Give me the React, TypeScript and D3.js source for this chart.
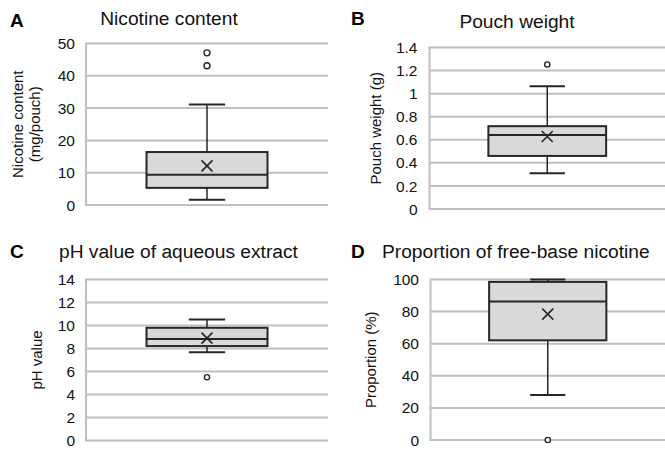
import React, { useEffect, useRef } from 'react';
import * as d3 from 'd3';

// box statistics per panel: [min whisker, q1, median, q3, max whisker], mean, outliers
const panelKeys = ['A', 'B', 'C', 'D'];
const panelTitles = ['Nicotine content', 'Pouch weight', 'pH value of aqueous extract', 'Proportion of free-base nicotine'];
const axisLabels = [['Nicotine content', '(mg/pouch)'], ['Pouch weight (g)'], ['pH value'], ['Proportion (%)']];
const yMax = [50, 1.4, 14, 100];
const yStep = [10, 0.2, 2, 20];
const whiskerLow = [1.6, 0.31, 7.67, 28];
const quartile1 = [5.3, 0.46, 8.21, 62.1];
const medians = [9.35, 0.642, 8.82, 86.3];
const quartile3 = [16.4, 0.718, 9.8, 98.5];
const whiskerHigh = [31.1, 1.065, 10.53, 100];
const means = [12.1, 0.628, 8.9, 78.4];
const outliers = [[47.1, 43.1], [1.253], [5.5], [0]];

// plot boxes (layout)
const frames = [
  { left: 86, right: 328, top: 43.5, bottom: 205, titleX: 169, titleAnchor: 'middle', titleY: 25, keyX: 10, keyY: 27, labelX: [23, 40], tickDx: -11, r: 3 },
  { left: 429.5, right: 665, top: 47.5, bottom: 209, titleX: 517, titleAnchor: 'middle', titleY: 28, keyX: 351, keyY: 25, labelX: [381], tickDx: -12, r: 2.6 },
  { left: 86, right: 328, top: 279.5, bottom: 440.5, titleX: 59, titleAnchor: 'start', titleY: 258, keyX: 10, keyY: 258, labelX: [42], tickDx: -11, r: 2.6 },
  { left: 430.5, right: 665, top: 279.5, bottom: 440, titleX: 382, titleAnchor: 'start', titleY: 258, keyX: 351, keyY: 258, labelX: [376], tickDx: -11.5, r: 2.6 },
];

const GRID = '#bfbfbf';
const INK = '#262626';
const FONT = 'Liberation Sans, Arial, sans-serif';

const App: React.FC = () => {
  const svgRef = useRef<SVGSVGElement>(null);

  useEffect(() => {
    if (!svgRef.current) return;
    const svg = d3.select(svgRef.current);
    svg.selectAll('*').remove();

    panelKeys.forEach((key, i) => {
      const f = frames[i];
      const g = svg.append('g');

      const y = d3.scaleLinear().domain([0, yMax[i]]).range([f.bottom, f.top]);
      const x = d3.scaleBand().domain(['box']).range([f.left, f.right]).paddingOuter(0.5);
      const ticks = d3.range(0, Math.round(yMax[i] / yStep[i]) + 1).map(k => +(k * yStep[i]).toFixed(4));

      // gridlines
      g.selectAll('.grid')
        .data(ticks)
        .enter()
        .append('line')
        .attr('x1', f.left)
        .attr('x2', f.right)
        .attr('y1', d => y(d))
        .attr('y2', d => y(d))
        .attr('stroke', GRID)
        .attr('stroke-width', 2);

      // left axis line
      g.append('line')
        .attr('x1', f.left).attr('x2', f.left)
        .attr('y1', f.top - 1).attr('y2', f.bottom + 1)
        .attr('stroke', GRID).attr('stroke-width', 2);

      // tick labels
      g.selectAll('.tick')
        .data(ticks)
        .enter()
        .append('text')
        .attr('x', f.left + f.tickDx)
        .attr('y', d => y(d))
        .attr('dy', '0.36em')
        .attr('text-anchor', 'end')
        .attr('font-family', FONT)
        .attr('font-size', 15.5)
        .attr('fill', '#111')
        .text(d => String(d));

      // titles
      g.append('text')
        .attr('x', f.keyX).attr('y', f.keyY)
        .attr('font-family', FONT).attr('font-size', 19).attr('font-weight', 'bold')
        .attr('fill', '#000')
        .text(key);
      g.append('text')
        .attr('x', f.titleX).attr('y', f.titleY)
        .attr('text-anchor', f.titleAnchor)
        .attr('font-family', FONT).attr('font-size', 19.2)
        .attr('fill', '#111')
        .text(panelTitles[i]);

      // y axis label
      const midY = (f.top + f.bottom) / 2;
      axisLabels[i].forEach((line, j) => {
        g.append('text')
          .attr('transform', `translate(${f.labelX[j]},${midY}) rotate(-90)`)
          .attr('text-anchor', 'middle')
          .attr('font-family', FONT).attr('font-size', 15)
          .attr('fill', '#111')
          .text(line);
      });

      // box plot
      const bx = x('box')!;
      const bw = x.bandwidth();
      const cx = bx + bw / 2;
      const cap = bw * 0.15;

      g.append('line')
        .attr('x1', cx).attr('x2', cx)
        .attr('y1', y(whiskerHigh[i])).attr('y2', y(quartile3[i]))
        .attr('stroke', INK).attr('stroke-width', 1.5);
      g.append('line')
        .attr('x1', cx).attr('x2', cx)
        .attr('y1', y(quartile1[i])).attr('y2', y(whiskerLow[i]))
        .attr('stroke', INK).attr('stroke-width', 1.5);
      [whiskerHigh[i], whiskerLow[i]].forEach(v => {
        g.append('line')
          .attr('x1', cx - cap).attr('x2', cx + cap)
          .attr('y1', y(v)).attr('y2', y(v))
          .attr('stroke', INK).attr('stroke-width', 2);
      });

      g.append('rect')
        .attr('x', bx).attr('y', y(quartile3[i]))
        .attr('width', bw).attr('height', y(quartile1[i]) - y(quartile3[i]))
        .attr('fill', '#d9d9d9').attr('stroke', INK).attr('stroke-width', 2);
      g.append('line')
        .attr('x1', bx).attr('x2', bx + bw)
        .attr('y1', y(medians[i])).attr('y2', y(medians[i]))
        .attr('stroke', INK).attr('stroke-width', 2);

      // mean marker
      const m = 5.5;
      const my = y(means[i]);
      g.append('path')
        .attr('d', `M${cx - m},${my - m}L${cx + m},${my + m}M${cx - m},${my + m}L${cx + m},${my - m}`)
        .attr('stroke', INK).attr('stroke-width', 1.6).attr('fill', 'none');

      g.selectAll('.outlier')
        .data(outliers[i])
        .enter()
        .append('circle')
        .attr('cx', cx)
        .attr('cy', d => y(d))
        .attr('r', f.r)
        .attr('fill', '#fff')
        .attr('stroke', INK)
        .attr('stroke-width', 1.4);
    });
  }, []);

  return (
    <div style={{ position: 'absolute', left: 0, top: 0 }}>
      <svg ref={svgRef} width={665} height={450} style={{ display: 'block', background: '#fff' }}></svg>
    </div>
  );
};

export default App;
